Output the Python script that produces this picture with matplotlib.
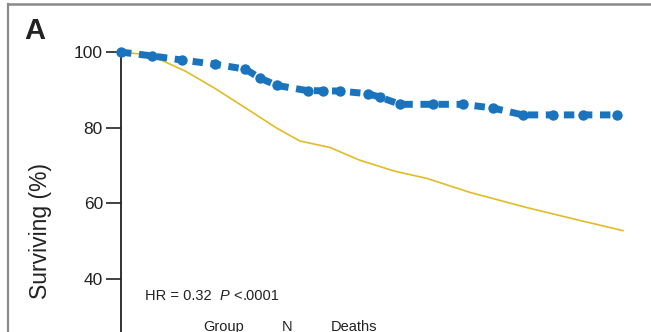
import matplotlib.pyplot as plt
from matplotlib.lines import Line2D

plt.rcParams["font.family"] = ["Liberation Sans", "DejaVu Sans"]

# control arm (solid yellow); time in years
ctrl_t = [0, 0.64, 0.72, 1.28, 1.84, 2.48, 3.11, 3.57, 4.17, 4.77, 5.47, 6.11, 6.97, 8.10, 9.16, 10.02]
ctrl_s = [100, 99.2, 98.4, 95.0, 90.7, 85.3, 79.9, 76.5, 74.8, 71.4, 68.5, 66.6, 62.9, 58.9, 55.5, 52.8]

# treated arm (blue dotted curve), points at the censor marks
trt_t = [0, 0.62, 1.22, 1.88, 2.48, 2.78, 3.11, 3.73, 4.03, 4.37, 4.93, 5.17, 5.57,
         6.23, 6.83, 7.43, 8.02, 8.62, 9.22, 9.90]
trt_s = [100, 99.0, 97.9, 96.8, 95.5, 93.1, 91.2, 89.8, 89.8, 89.7, 89.0, 88.1, 86.2,
         86.2, 86.2, 85.2, 83.4, 83.4, 83.4, 83.4]

yticks = [40, 60, 80, 100]

W, H = 651, 332
fig = plt.figure(figsize=(W / 100, H / 100), dpi=100)
ax = fig.add_axes([121 / W, 0, 530 / W, 295 / H])

blue = "#1a74bd"
yellow = "#e0bc26"

ax.plot(ctrl_t, ctrl_s, color=yellow, lw=1.2, zorder=2)
ax.plot(trt_t, trt_s, color=blue, lw=5, ls=(0, (1.5, 1.1)), zorder=3, clip_on=False)
ax.plot(trt_t, trt_s, color=blue, lw=0, marker="o", ms=7.5, mew=0,
        zorder=4, clip_on=False)

ax.set_xlim(0, 10.58)
ax.set_ylim(26, 104)
ax.set_yticks(yticks)
ax.tick_params(axis="y", direction="out", length=11, width=1.2, labelsize=12.5,
               pad=2, colors="#222222")
ax.set_xticks([])
for side in ["top", "right", "bottom"]:
    ax.spines[side].set_visible(False)
ax.spines["left"].set_bounds(26, 100)
ax.spines["left"].set_linewidth(1.3)
ax.spines["left"].set_color("#222222")
ax.patch.set_alpha(0)


def fx(px):
    return px / W


def fy(py):
    return 1 - py / H


fig.text(fx(24), fy(31), "A", fontsize=21, fontweight="bold", va="center", ha="left",
         color="#222222")
fig.text(fx(41), fy(231), "Surviving (%)", rotation=90, fontsize=16.5,
         va="center", ha="center", color="#222222")

fig.text(fx(145), fy(296), "HR = 0.32", fontsize=10.5, va="center", ha="left", color="#222222")
fig.text(fx(220), fy(296), "P", fontsize=10.5, style="italic", va="center", ha="left",
         color="#222222")
fig.text(fx(233), fy(296), "<", fontsize=10.5, va="center", ha="left", color="#222222")
fig.text(fx(243), fy(296), ".0001", fontsize=10.5, va="center", ha="left", color="#222222")
fig.text(fx(224), fy(327), "Group", fontsize=10.5, va="center", ha="center", color="#222222")
fig.text(fx(287), fy(327), "N", fontsize=10.5, va="center", ha="center", color="#222222")
fig.text(fx(354), fy(327), "Deaths", fontsize=10.5, va="center", ha="center", color="#222222")

# outer frame, only top and left edges are in view
fig.add_artist(Line2D([fx(8), fx(8)], [fy(4), 0], color="#8a8a8a", lw=1.6))
fig.add_artist(Line2D([fx(8), 1], [fy(4), fy(4)], color="#8a8a8a", lw=1.8))

fig.savefig("out.png", dpi=100)
